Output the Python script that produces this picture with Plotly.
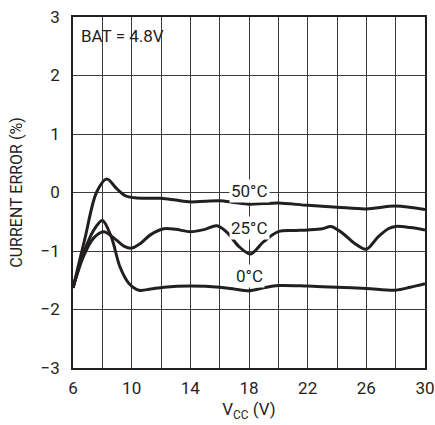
import plotly.graph_objects as go

vcc_50 = [6, 6.8, 7.6, 8.3, 9.0, 9.6, 10.2, 11, 12, 13, 14, 15, 16, 17, 18, 19, 20, 22, 24, 26, 28, 30]
err_50 = [-1.63, -0.8, 0.0, 0.23, 0.06, -0.06, -0.09, -0.1, -0.1, -0.13, -0.16, -0.15, -0.14, -0.17, -0.2, -0.19, -0.18, -0.22, -0.25, -0.28, -0.23, -0.29]

vcc_25 = [6, 6.7, 7.4, 8.1, 8.8, 9.5, 10.0, 10.6, 11.3, 12.2, 13, 14, 15, 15.8, 16.5, 17.3, 18.1, 19, 20, 21, 22, 23, 23.6, 24.4, 25.2, 26, 26.8, 27.5, 28, 29, 30]
err_25 = [-1.63, -1.1, -0.78, -0.67, -0.78, -0.92, -0.95, -0.87, -0.72, -0.62, -0.63, -0.67, -0.63, -0.57, -0.68, -0.92, -1.05, -0.84, -0.67, -0.65, -0.64, -0.62, -0.58, -0.7, -0.87, -0.97, -0.76, -0.62, -0.58, -0.6, -0.64]

vcc_0 = [6, 6.7, 7.4, 8.0, 8.6, 9.2, 9.8, 10.5, 11.3, 12.2, 14, 16, 17, 18, 19, 20, 22, 24, 26, 28, 29, 30]
err_0 = [-1.63, -1.05, -0.65, -0.48, -0.75, -1.27, -1.55, -1.67, -1.65, -1.62, -1.6, -1.62, -1.65, -1.68, -1.63, -1.59, -1.6, -1.62, -1.64, -1.67, -1.62, -1.56]

labels = ["50°C", "25°C", "0°C"]
label_x = [18, 18, 18]
label_y = [0.03, -0.61, -1.43]

x_grid = list(range(6, 31, 2))
x_text = [str(v) if (v - 6) % 4 == 0 else "" for v in x_grid]
y_vals = [-3, -2, -1, 0, 1, 2, 3]
y_text = ["−3", "−2", "−1", "0", "1", "2", "3"]

FONT = "Liberation Sans Narrow, Roboto, Arial, sans-serif"
LINE = "#231f20"

fig = go.Figure()
for xs, ys in [(vcc_50, err_50), (vcc_25, err_25), (vcc_0, err_0)]:
    fig.add_trace(go.Scatter(x=xs, y=ys, mode="lines",
                             line=dict(color=LINE, width=3, shape="spline", smoothing=0.9),
                             showlegend=False, hoverinfo="skip"))

for t, x, y in zip(labels, label_x, label_y):
    fig.add_annotation(x=x, y=y, text=t, showarrow=False, bgcolor="white",
                       font=dict(family=FONT, size=17, color=LINE), borderpad=1)

fig.add_annotation(x=0, y=1, xref="paper", yref="paper", xanchor="left", yanchor="top",
                   xshift=6, yshift=-7, text="BAT = 4.8V", showarrow=False,
                   font=dict(family=FONT, size=17, color=LINE))

fig.update_layout(
    width=435, height=425,
    margin=dict(l=73, r=10, t=17, b=57),
    paper_bgcolor="white", plot_bgcolor="white",
    font=dict(family=FONT, size=17, color=LINE),
    xaxis=dict(range=[6, 30], tickvals=x_grid, ticktext=x_text, showgrid=True,
               gridcolor="#3a3a3a", gridwidth=1, zeroline=False,
               showline=True, linecolor=LINE, linewidth=1.5, mirror=True,
               ticks="", ticklabelstandoff=4, automargin=False,
               title=dict(text="V<sub>CC</sub> (V)", standoff=6, font=dict(size=17))),
    yaxis=dict(range=[-3, 3], tickvals=y_vals, ticktext=y_text, showgrid=True,
               gridcolor="#3a3a3a", gridwidth=1, zeroline=False,
               showline=True, linecolor=LINE, linewidth=1.5, mirror=True,
               ticks="", ticklabelstandoff=8, automargin=False,
               title=dict(text="CURRENT ERROR (%)", standoff=14, font=dict(size=16))),
)

fig.write_html("out.html", config={"displayModeBar": False},
               post_script="document.body.style.margin='0';document.body.style.overflow='hidden';")
